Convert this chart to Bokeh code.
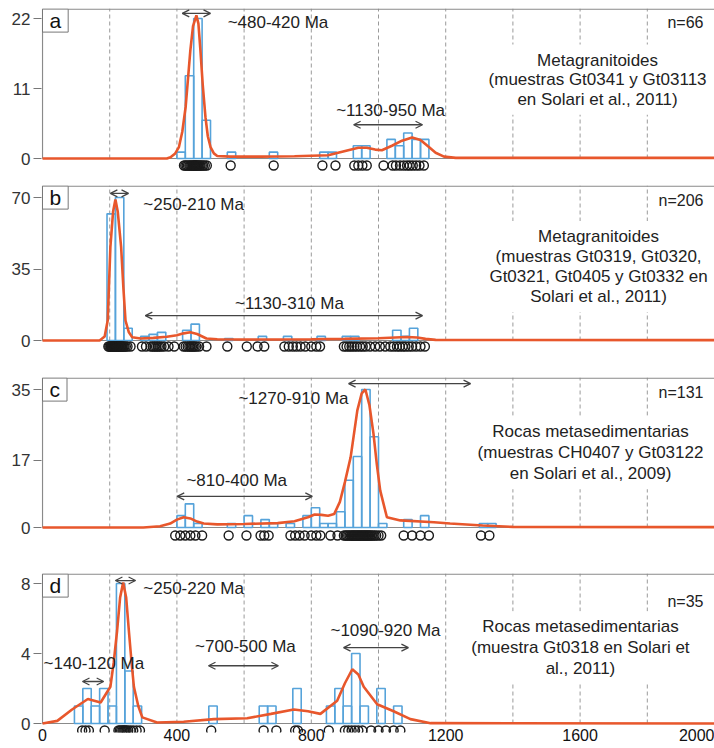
from bokeh.plotting import figure
from bokeh.layouts import column
from bokeh.models import FixedTicker, Label, Arrow, OpenHead, Range1d
from bokeh.embed import file_html
from bokeh.resources import INLINE

FONT = "Liberation Sans"

# ---------------- data ----------------
x_ticks = [0, 400, 800, 1200, 1600, 2000]
grid_x = [200, 400, 600, 800, 1000, 1200, 1400, 1600, 1800]
bin_width = 25

# panel a
a_bin_left = [400, 425, 450, 475, 550, 675, 825, 850, 925, 950, 1025, 1050, 1075, 1100, 1125]
a_counts = [1, 13, 22, 6, 1, 1, 1, 1, 2, 2, 3, 2, 4, 3, 3]
a_curve_x = [0, 370, 381, 395, 406, 416, 426, 433, 440, 448, 458, 464, 470, 477, 485, 492, 500, 510, 520, 560,
             650, 750, 850, 880, 910, 940, 965, 990, 1010, 1040, 1070, 1100, 1125, 1150, 1170, 1195, 1230, 2000]
a_curve_y = [0, 0, 0.2, 0.8, 1.8, 4.2, 8.1, 12.5, 17, 20.8, 22.5, 21.2, 17, 11.5, 6.5, 3.5, 1.8, 0.8, 0.4, 0.3,
             0.3, 0.35, 0.5, 0.9, 1.3, 1.7, 1.7, 1.4, 1.3, 2.0, 2.8, 3.3, 2.9, 1.8, 0.9, 0.3, 0.1, 0.1]
a_ages = [421, 425, 429, 433, 437, 440, 443, 446, 449, 451, 453, 455, 457, 459, 461, 464, 467, 470, 474, 478,
          483, 489, 560, 688, 833, 872, 928, 940, 952, 965, 1015, 1042, 1052, 1064, 1075, 1085, 1093, 1102,
          1112, 1122, 1135]
a_yticks = [0, 11, 22]

# panel b
b_bin_left = [192, 217, 242, 292, 317, 342, 417, 442, 542, 642, 717, 817, 892, 917, 1042, 1067, 1092]
b_counts = [62, 70, 6, 2, 3, 4, 5, 8, 1, 2, 2, 2, 2, 2, 5, 2, 6]
b_curve_x = [0, 170, 185, 194, 202, 210, 217, 224, 234, 241, 247, 257, 267, 292, 330, 370, 400, 420, 440, 460,
             488, 520, 600, 700, 800, 900, 1000, 1050, 1085, 1115, 1140, 1170, 2000]
b_curve_y = [0, 0, 2, 9.8, 45.7, 63, 69, 63, 45.7, 25, 9.8, 4, 1.6, 1, 1.3, 1.8, 2.6, 3.5, 4, 3.2,
             1, 0.6, 0.5, 0.5, 0.6, 0.8, 1.1, 1.5, 1.7, 1.5, 0.8, 0.3, 0.2]
b_ages = [196, 199, 202, 204, 206, 208, 210, 212, 214, 215, 217, 218, 220, 221, 223, 224, 226, 228, 230, 232,
          234, 236, 238, 241, 244, 248, 253, 262, 296, 308, 322, 328, 333, 338, 343, 348, 354, 362, 375, 392,
          420, 426, 432, 437, 441, 445, 449, 453, 458, 466, 488, 550, 608, 640, 660, 720, 733, 745, 756, 768,
          782, 800, 815, 826, 897, 905, 913, 920, 928, 936, 945, 953, 962, 975, 990, 1004, 1020, 1035, 1045,
          1055, 1063, 1072, 1080, 1090, 1100, 1112, 1125, 1138]
b_yticks = [0, 35, 70]

# panel c
c_bin_left = [400, 425, 450, 550, 600, 650, 675, 725, 775, 800, 825, 850, 875, 900, 925, 950, 975, 1000,
              1075, 1125, 1300, 1325]
c_counts = [3, 6, 1, 1, 3, 2, 1, 1, 3, 5, 1, 1, 4, 12, 18, 35, 23, 1, 2, 3, 1, 1]
c_curve_x = [0, 300, 350, 380, 400, 420, 440, 460, 480, 520, 600, 700, 750, 790, 810, 830, 850, 868, 885, 900,
             917, 937, 950, 961, 973, 985, 995, 1005, 1025, 1065, 1165, 1213, 1310, 1400, 2000]
c_curve_y = [0, 0, 0.3, 1.0, 2.0, 2.6, 2.3, 1.5, 1.0, 0.8, 0.9, 1.1, 1.6, 2.6, 3.3, 3.2, 3.0, 3.4, 6.5, 11.5,
             17.8, 29.7, 34, 35, 31, 23.8, 16, 9.4, 2.6, 1.8, 1.35, 1.0, 0.5, 0.15, 0.1]
c_ages = [395, 410, 425, 440, 455, 475, 554, 607, 649, 660, 673, 738, 752, 765, 780, 800, 815, 827, 857, 878,
          897, 902, 906, 910, 914, 918, 921, 924, 927, 930, 933, 936, 939, 942, 945, 948, 951, 954, 957, 960,
          963, 966, 969, 972, 975, 979, 983, 988, 993, 1000, 1008, 1075, 1100, 1125, 1150, 1305, 1330]
c_yticks = [0, 17, 35]

# panel d
d_bin_left = [95, 120, 145, 170, 195, 220, 245, 270, 495, 645, 670, 745, 845, 870, 895, 920, 945, 995, 1045]
d_counts = [1, 2, 1, 2, 1, 8, 3, 1, 1, 1, 1, 2, 1, 2, 1, 4, 1, 2, 1]
d_curve_x = [0, 44, 88, 135, 173, 202, 212, 222, 231, 240, 249, 257, 265, 272, 285, 297, 341, 420, 510, 609,
             680, 748, 790, 827, 877, 900, 922, 940, 956, 996, 1045, 1095, 1155, 2000]
d_curve_y = [0, 0.15, 0.8, 1.4, 1.2, 2.1, 3.5, 5.3, 7.2, 8.05, 7.2, 5.3, 3.5, 2.1, 1.0, 0.35, 0.06, 0.1, 0.25,
             0.3, 0.55, 0.8, 0.7, 0.55, 1.3, 2.3, 3.1, 2.8, 2.1, 1.1, 0.7, 0.25, 0.02, 0]
d_ages = [118, 128, 138, 185, 226, 230, 234, 238, 241, 244, 247, 250, 255, 262, 270, 280, 290, 502, 658, 696,
          752, 760, 852, 900, 910, 920, 930, 940, 952, 978, 1000, 1022, 1045, 1065]
d_yticks = [0, 4, 8]

# text
a_n, b_n, c_n, d_n = "n=66", "n=206", "n=131", "n=35"
a_desc = "Metagranitoides\n(muestras Gt0341 y Gt03113\nen Solari et al., 2011)"
b_desc = "Metagranitoides\n(muestras Gt0319, Gt0320,\nGt0321, Gt0405 y Gt0332 en\nSolari et al., 2011)"
c_desc = "Rocas metasedimentarias\n(muestras CH0407 y Gt03122\nen Solari et al., 2009)"
d_desc = "Rocas metasedimentarias\n(muestra Gt0318 en Solari et\nal., 2011)"

# age-range arrows: (text, x_start, x_end, arrow_y, label_x, label_y, align)
a_ranges = [("~480-420 Ma", 416, 500, 22.8, 551, 21.4, "left"),
            ("~1130-950 Ma", 926, 1131, 5.3, 1036, 7.5, "center")]
b_ranges = [("~250-210 Ma", 202, 256, 72.0, 300, 66.6, "left"),
            ("~1130-310 Ma", 306, 1131, 12.2, 735, 18.3, "center")]
c_ranges = [("~1270-910 Ma", 911, 1274, 36.5, 747, 32.7, "center"),
            ("~810-400 Ma", 401, 803, 7.9, 578, 11.9, "center")]
d_ranges = [("~250-220 Ma", 217, 277, 8.17, 300, 7.7, "left"),
            ("~140-120 Ma", 119, 182, 2.4, 3, 3.43, "left"),
            ("~700-500 Ma", 494, 702, 3.3, 604, 4.4, "center"),
            ("~1090-920 Ma", 896, 1089, 4.34, 857, 5.3, "left")]

# ---------------- styles / layout ----------------
BAR_C = "#56a3da"
CURVE_C = "#e8572c"
FRAME_C = "#8a8a8a"
GRID_C = "#9a9a9a"
TXT_C = "#222222"
X_START = -3
X_END = 2000
FRAME_W = 673


def make_panel(letter, bin_left, counts, cx, cy, ages, yticks, n_txt, desc, ranges,
               frame_h, zero_px, ppu, border_top, circ_px, desc_xy, desc_lh, n_y, show_x):
    y_top = zero_px / ppu
    y_bot = -(frame_h - zero_px) / ppu
    y_edge = y_top - 0.6 / ppu
    p = figure(frame_width=FRAME_W, frame_height=frame_h,
               x_range=Range1d(X_START, X_END), y_range=Range1d(y_bot, y_top),
               output_backend="svg", toolbar_location=None,
               min_border_left=41, min_border_right=0, min_border_top=border_top,
               min_border_bottom=0, x_axis_location="below" if show_x else None,
               outline_line_color=None, background_fill_color="white",
               border_fill_color="white")
    p.xgrid.visible = False
    p.ygrid.visible = False

    # dashed vertical grid from 0 to top
    p.segment(x0=grid_x, y0=[0] * len(grid_x), x1=grid_x, y1=[y_top] * len(grid_x),
              line_color=GRID_C, line_dash="4 3", line_width=1)

    # frame (left, top, bottom at zero)
    p.line(x=[0, 0, X_END], y=[0, y_edge, y_edge], line_color=FRAME_C, line_width=1.2)
    p.line(x=[0, X_END], y=[0, 0], line_color=FRAME_C, line_width=1.2)

    rights = [l + bin_width for l in bin_left]
    p.quad(left=bin_left, right=rights, bottom=[0] * len(counts), top=counts,
           fill_color=None, line_color=BAR_C, line_width=1.6)
    p.line(cx, cy, line_color=CURVE_C, line_width=2.6)
    p.scatter(ages, [-circ_px / ppu] * len(ages), marker="circle", size=9,
              fill_color=None, line_color="#1a1a1a", line_width=1.4)

    # y axis
    ya = p.yaxis[0]
    ya.ticker = FixedTicker(ticks=yticks)
    ya.axis_line_color = None
    ya.major_tick_out = 8
    ya.major_tick_in = 0
    ya.major_tick_line_color = "#777777"
    ya.minor_tick_line_color = None
    ya.major_label_standoff = 3
    ya.major_label_text_font = FONT
    ya.major_label_text_font_size = "17px"
    ya.major_label_text_color = "#333333"

    if show_x:
        xa = p.xaxis[0]
        xa.ticker = FixedTicker(ticks=x_ticks)
        xa.axis_line_color = None
        xa.major_tick_line_color = None
        xa.minor_tick_line_color = None
        xa.major_tick_out = 0
        xa.major_tick_in = 0
        xa.major_label_standoff = -4
        xa.major_label_text_font = FONT
        xa.major_label_text_font_size = "16px"
        xa.major_label_text_color = "#111111"

    # arrows and labels
    for txt, xs, xe, ay, lx, ly, al in ranges:
        p.add_layout(Arrow(x_start=xs, y_start=ay, x_end=xe, y_end=ay,
                           line_color="#444444", line_width=1.3,
                           start=OpenHead(size=7, line_color="#444444", line_width=1.3),
                           end=OpenHead(size=7, line_color="#444444", line_width=1.3)))
        p.add_layout(Label(x=lx, y=ly, text=txt, text_align=al, text_baseline="middle",
                           text_font=FONT, text_font_size="17px", text_color=TXT_C))

    # description
    p.add_layout(Label(x=desc_xy[0], y=desc_xy[1], text=desc, text_align="center",
                       text_baseline="middle", text_font=FONT, text_font_size="17px",
                       text_color=TXT_C, text_line_height=desc_lh,
                       background_fill_color="white", padding=6))
    # n label
    p.add_layout(Label(x=1973, y=n_y, text=n_txt, text_align="right",
                       text_baseline="middle", text_font=FONT, text_font_size="16px",
                       text_color=TXT_C, background_fill_color="white", padding=2))
    # panel letter
    p.add_layout(Label(x=0, y=y_edge, text=letter, text_align="left", text_baseline="top",
                       text_font=FONT, text_font_size="21px", text_color="#111111",
                       text_line_height=1.0,
                       background_fill_color="white", border_line_color="#777777",
                       border_line_width=1, padding=(7, 0)))
    return p


pa = make_panel("a", a_bin_left, a_counts, a_curve_x, a_curve_y, a_ages, a_yticks, a_n, a_desc, a_ranges,
                frame_h=169, zero_px=150, ppu=140 / 22, border_top=8, circ_px=7,
                desc_xy=(1652, 12.4), desc_lh=1.03, n_y=21.3, show_x=False)
pb = make_panel("b", b_bin_left, b_counts, b_curve_x, b_curve_y, b_ages, b_yticks, b_n, b_desc, b_ranges,
                frame_h=172, zero_px=155, ppu=143 / 70, border_top=8, circ_px=6,
                desc_xy=(1655, 36.2), desc_lh=1.05, n_y=68.5, show_x=False)
pc = make_panel("c", c_bin_left, c_counts, c_curve_x, c_curve_y, c_ages, c_yticks, c_n, c_desc, c_ranges,
                frame_h=171, zero_px=150, ppu=138 / 35, border_top=20, circ_px=8,
                desc_xy=(1631, 19.0), desc_lh=1.12, n_y=34.2, show_x=False)
pd = make_panel("d", d_bin_left, d_counts, d_curve_x, d_curve_y, d_ages, d_yticks, d_n, d_desc, d_ranges,
                frame_h=159, zero_px=150, ppu=140 / 8, border_top=25, circ_px=7,
                desc_xy=(1601, 4.34), desc_lh=1.1, n_y=7.0, show_x=True)

layout = column(pa, pb, pc, pd, spacing=0)
open("out.html", "w").write(file_html(layout, INLINE))
